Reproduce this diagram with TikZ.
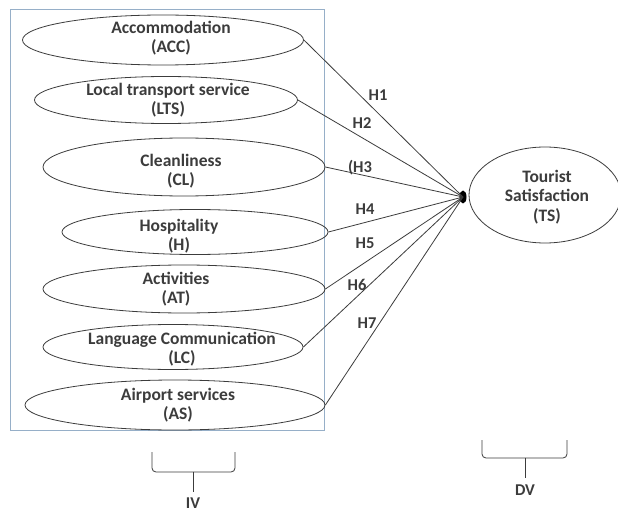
\documentclass[tikz,border=0pt]{standalone}
\usepackage{fontspec}
\setmainfont{Carlito}
\usetikzlibrary{shapes.geometric}
\definecolor{boxblue}{RGB}{150,175,200}
\definecolor{ink}{RGB}{60,60,60}
\tikzset{
  oval/.style={ellipse, draw=ink, line width=0.8pt, inner sep=0pt},
  txt/.style={align=center, font=\fontsize{17.5}{19.5}\selectfont\bfseries, text=ink, inner sep=0pt},
  hlab/.style={font=\fontsize{16.5}{18}\selectfont\bfseries, text=ink, inner sep=0pt},
  link/.style={draw=ink, line width=0.8pt},
  bracket/.style={draw=ink, line width=0.8pt, rounded corners=4pt}
}
\begin{document}
\begin{tikzpicture}[x=1pt,y=-1pt]
\useasboundingbox[fill=white] (0,0) rectangle (618,513);
\draw[boxblue, line width=1pt] (10,10) rectangle (324,430);
% ellipses
\node[oval, minimum width=281, minimum height=50] (acc) at (163,40) {};
\node[oval, minimum width=263, minimum height=47] (lts) at (166,100) {};
\node[oval, minimum width=282, minimum height=58] (cl) at (184,167) {};
\node[oval, minimum width=266, minimum height=45] (h) at (195,232) {};
\node[oval, minimum width=282, minimum height=48] (at) at (184,289) {};
\node[oval, minimum width=260, minimum height=45] (lc) at (173,347) {};
\node[oval, minimum width=300, minimum height=50] (as) at (175,405) {};
\node[oval, minimum width=152, minimum height=96] (ts) at (545,195) {};
% texts
\node[txt] (tacc) at (171,38) {Accommodation\\(ACC)};
\node[txt] (tlts) at (168,100) {Local transport service\\(LTS)};
\node[txt] (tcl) at (181,171) {Cleanliness\\(CL)};
\node[txt] (th) at (179,236) {Hospitality\\(H)};
\node[txt] (tat) at (176,289) {Activities\\(AT)};
\node[txt] (tlc) at (182,349) {Language Communication\\(LC)};
\node[txt] (tas) at (178,405) {Airport services\\(AS)};
\node[txt] (tts) at (547,197) {Tourist\\Satisfaction\\(TS)};
% dot
\node[ellipse, fill=black, minimum width=7, minimum height=13, inner sep=0pt] (dot) at (463,197) {};
% links
\draw[link] (acc.east) -- (dot.center);
\draw[link] (lts.east) -- (dot.center);
\draw[link] (cl.east) -- (dot.center);
\draw[link] (h.east) -- (dot.center);
\draw[link] (at.east) -- (dot.center);
\draw[link] (lc.east) -- (dot.center);
\draw[link] (as.east) -- (dot.center);
% hypothesis labels
\node[hlab] (h1) at (378,95) {H1};
\node[hlab] (h2) at (362,123) {H2};
\node[hlab] (h3) at (360,168) {(H3};
\node[hlab] (h4) at (365,209) {H4};
\node[hlab] (h5) at (365,243) {H5};
\node[hlab] (h6) at (357,285) {H6};
\node[hlab] (h7) at (367,323) {H7};
% brackets
\draw[bracket] (152,452) -- (152,472) -- (193,472);
\draw[bracket] (235,452) -- (235,472) -- (193,472);
\draw[link] (193,472) -- (193,492);
\node[hlab] (iv) at (193,503) {IV};
\draw[bracket] (482,440) -- (482,458) -- (525,458);
\draw[bracket] (567,440) -- (567,458) -- (525,458);
\draw[link] (525,458) -- (525,478);
\node[hlab] (dv) at (525,490) {DV};
\end{tikzpicture}
\end{document}
